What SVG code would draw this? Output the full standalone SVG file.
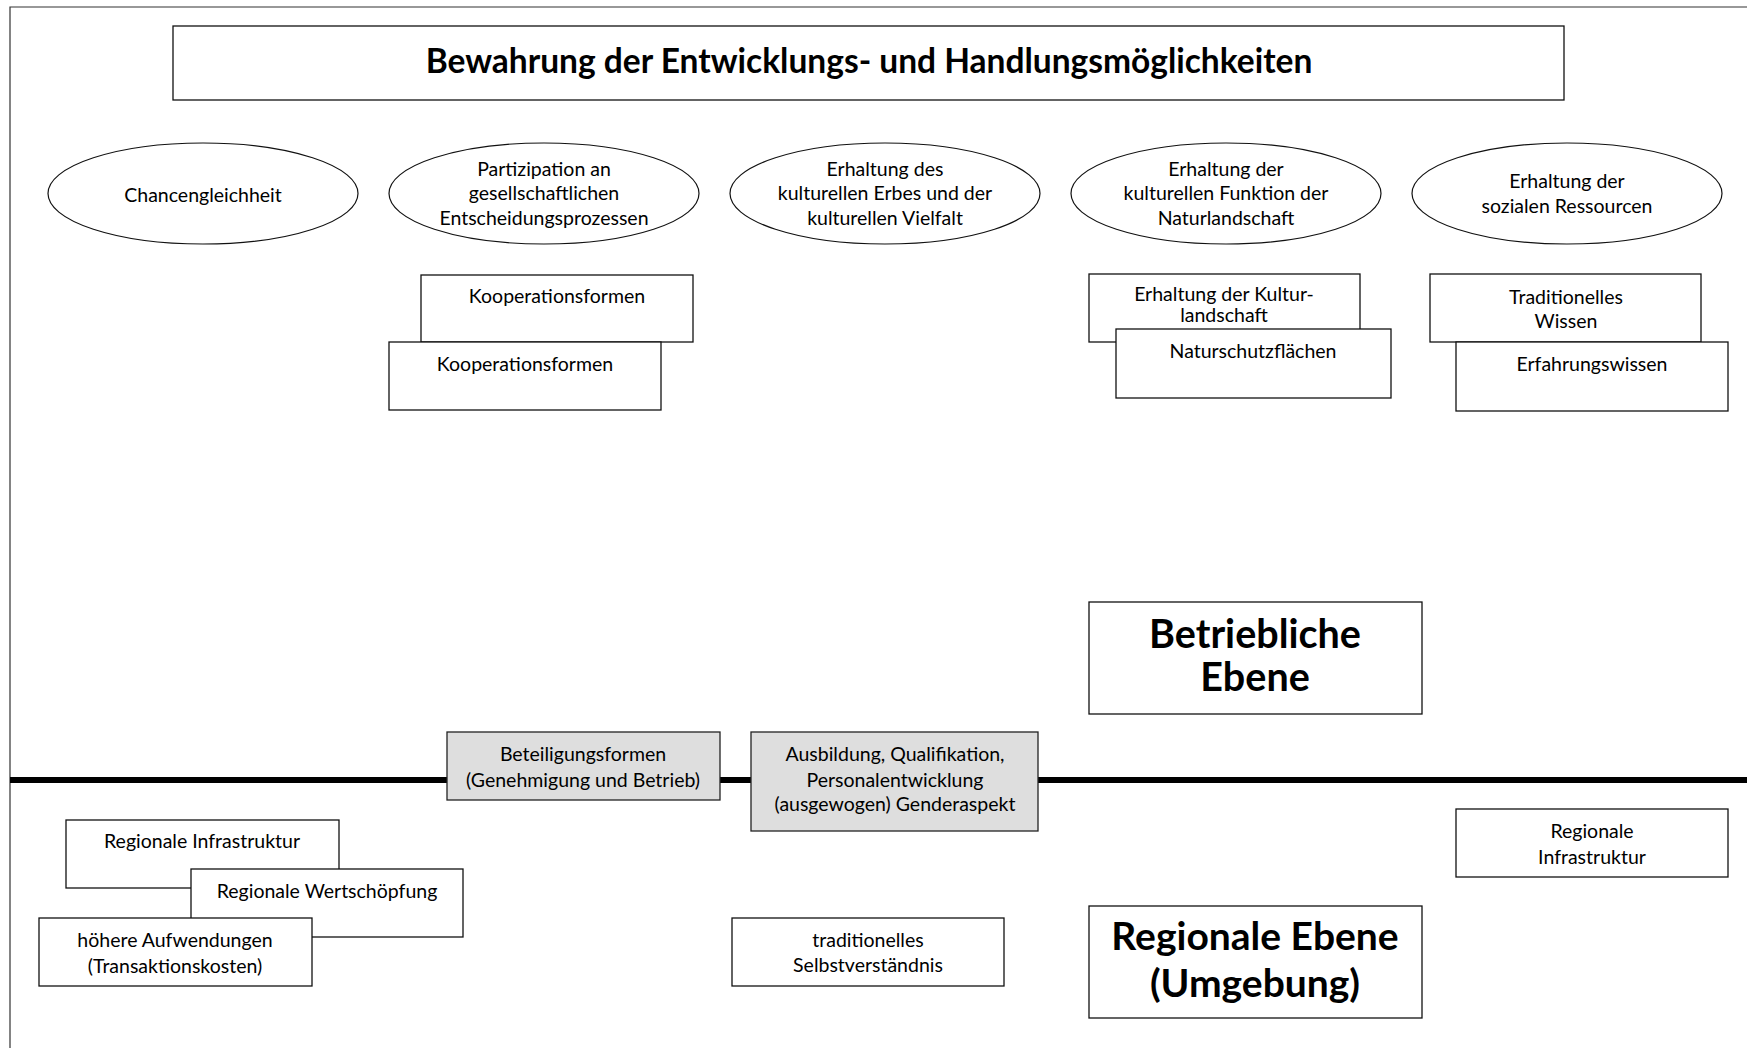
<svg xmlns="http://www.w3.org/2000/svg" width="1747" height="1048" viewBox="0 0 1747 1048">
  <style>
    .frame { fill: none; stroke: #333; stroke-width: 1.2; }
    .box { fill: #fff; stroke: #111; stroke-width: 1.3; }
    .grey { fill: #dedede; stroke: #222; stroke-width: 1.3; }
    .oval { fill: #fff; stroke: #111; stroke-width: 1.2; }
    .t { font-family: Lato, "Liberation Sans", sans-serif; font-size: 19.5px; fill: #000; text-anchor: middle; dominant-baseline: central; }
    .big { font-family: Lato, "Liberation Sans", sans-serif; font-weight: bold; fill: #000; text-anchor: middle; dominant-baseline: central; }
  </style>
  <rect width="1747" height="1048" fill="#fff"/>
  <!-- outer frame (open to the right and bottom edges) -->
  <path class="frame" d="M10,1048 V7 H1747"/>

  <!-- heading -->
  <g id="title">
    <rect class="box" x="173" y="26" width="1391" height="74"/>
    <text class="big" x="869" y="60" font-size="33.5">Bewahrung der Entwicklungs- und Handlungsmöglichkeiten</text>
  </g>

  <!-- goal ovals -->
  <g id="chancengleichheit">
    <ellipse class="oval" cx="203" cy="193.5" rx="155" ry="50.5"/>
    <text class="t" x="203" y="194">Chancengleichheit</text>
  </g>
  <g id="partizipation">
    <ellipse class="oval" cx="544" cy="193.5" rx="155" ry="50.5"/>
    <text class="t" x="544" y="168">Partizipation an</text>
    <text class="t" x="544" y="192">gesellschaftlichen</text>
    <text class="t" x="544" y="217">Entscheidungsprozessen</text>
  </g>
  <g id="kulturelles-erbe">
    <ellipse class="oval" cx="885" cy="193.5" rx="155" ry="50.5"/>
    <text class="t" x="885" y="168">Erhaltung des</text>
    <text class="t" x="885" y="192">kulturellen Erbes und der</text>
    <text class="t" x="885" y="217">kulturellen Vielfalt</text>
  </g>
  <g id="naturlandschaft">
    <ellipse class="oval" cx="1226" cy="193.5" rx="155" ry="50.5"/>
    <text class="t" x="1226" y="168">Erhaltung der</text>
    <text class="t" x="1226" y="192">kulturellen Funktion der</text>
    <text class="t" x="1226" y="217">Naturlandschaft</text>
  </g>
  <g id="soziale-ressourcen">
    <ellipse class="oval" cx="1567" cy="193.5" rx="155" ry="50.5"/>
    <text class="t" x="1567" y="180">Erhaltung der</text>
    <text class="t" x="1567" y="205">sozialen Ressourcen</text>
  </g>

  <!-- upper boxes -->
  <g id="kooperationsformen-1">
    <rect class="box" x="421" y="275" width="272" height="67"/>
    <text class="t" x="557" y="295">Kooperationsformen</text>
  </g>
  <g id="kooperationsformen-2">
    <rect class="box" x="389" y="342" width="272" height="68"/>
    <text class="t" x="525" y="363">Kooperationsformen</text>
  </g>
  <g id="kulturlandschaft">
    <rect class="box" x="1089" y="274" width="271" height="68"/>
    <text class="t" x="1224" y="293">Erhaltung der Kultur-</text>
    <text class="t" x="1224" y="314">landschaft</text>
  </g>
  <g id="naturschutzflaechen">
    <rect class="box" x="1116" y="329" width="275" height="69"/>
    <text class="t" x="1253" y="350">Naturschutzflächen</text>
  </g>
  <g id="traditionelles-wissen">
    <rect class="box" x="1430" y="274" width="271" height="68"/>
    <text class="t" x="1566" y="296">Traditionelles</text>
    <text class="t" x="1566" y="320">Wissen</text>
  </g>
  <g id="erfahrungswissen">
    <rect class="box" x="1456" y="342" width="272" height="69"/>
    <text class="t" x="1592" y="363">Erfahrungswissen</text>
  </g>

  <g id="betriebliche-ebene">
    <rect class="box" x="1089" y="602" width="333" height="112"/>
    <text class="big" x="1255" y="632" font-size="39.5">Betriebliche</text>
    <text class="big" x="1255" y="675" font-size="39.5">Ebene</text>
  </g>

  <!-- boundary between company level and region -->
  <g id="divider">
    <line x1="10" y1="780" x2="1747" y2="780" stroke="#000" stroke-width="6"/>
  </g>

  <g id="beteiligungsformen">
    <rect class="grey" x="447" y="732" width="273" height="68"/>
    <text class="t" x="583" y="753">Beteiligungsformen</text>
    <text class="t" x="583" y="779">(Genehmigung und Betrieb)</text>
  </g>
  <g id="ausbildung">
    <rect class="grey" x="751" y="732" width="287" height="99"/>
    <text class="t" x="895" y="753">Ausbildung, Qualifikation,</text>
    <text class="t" x="895" y="779">Personalentwicklung</text>
    <text class="t" x="895" y="803">(ausgewogen) Genderaspekt</text>
  </g>

  <!-- regional level boxes -->
  <g id="regionale-infrastruktur-links">
    <rect class="box" x="66" y="820" width="273" height="68"/>
    <text class="t" x="202" y="840">Regionale Infrastruktur</text>
  </g>
  <g id="regionale-wertschoepfung">
    <rect class="box" x="191" y="869" width="272" height="68"/>
    <text class="t" x="327" y="890">Regionale Wertschöpfung</text>
  </g>
  <g id="hoehere-aufwendungen">
    <rect class="box" x="39" y="918" width="273" height="68"/>
    <text class="t" x="175" y="939">höhere Aufwendungen</text>
    <text class="t" x="175" y="965">(Transaktionskosten)</text>
  </g>
  <g id="selbstverstaendnis">
    <rect class="box" x="732" y="918" width="272" height="68"/>
    <text class="t" x="868" y="939">traditionelles</text>
    <text class="t" x="868" y="964">Selbstverständnis</text>
  </g>
  <g id="regionale-infrastruktur-rechts">
    <rect class="box" x="1456" y="809" width="272" height="68"/>
    <text class="t" x="1592" y="830">Regionale</text>
    <text class="t" x="1592" y="856">Infrastruktur</text>
  </g>

  <g id="regionale-ebene">
    <rect class="box" x="1089" y="906" width="333" height="112"/>
    <text class="big" x="1255" y="935" font-size="39">Regionale Ebene</text>
    <text class="big" x="1255" y="982" font-size="39">(Umgebung)</text>
  </g>
</svg>
